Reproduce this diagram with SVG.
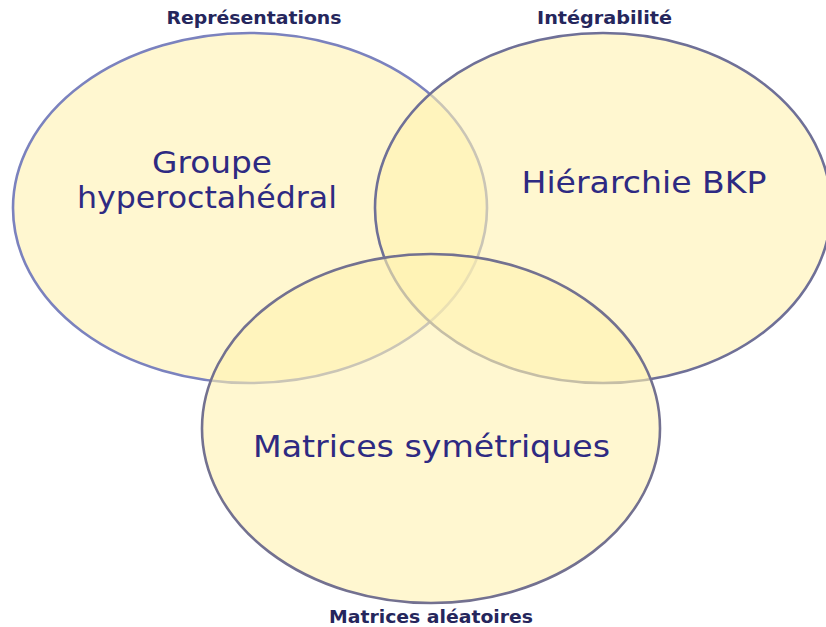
<svg xmlns="http://www.w3.org/2000/svg" width="826" height="627" viewBox="0 0 826 627">
<style>
.set{fill:#FFF2B0;fill-opacity:0.6;stroke-width:2.6}
.lbl{font-family:"DejaVu Sans","Liberation Sans",sans-serif;font-weight:bold;font-size:17px;fill:#25265C;text-anchor:middle}
.main{font-family:"DejaVu Sans","Liberation Sans",sans-serif;font-size:30px;fill:#2E2A82;text-anchor:middle}
</style>
<rect width="826" height="627" fill="#FFFFFF"/>
<g id="representations">
<ellipse class="set" cx="250" cy="208" rx="237" ry="175" stroke="#7B82BE"/>
<text class="lbl" x="254" y="24" textLength="175" lengthAdjust="spacingAndGlyphs">Représentations</text>
<text class="main" x="212" y="173" textLength="120" lengthAdjust="spacingAndGlyphs">Groupe</text>
<text class="main" x="207" y="208" textLength="260" lengthAdjust="spacingAndGlyphs">hyperoctahédral</text>
</g>
<g id="integrabilite">
<ellipse class="set" cx="603" cy="208" rx="228" ry="175" stroke="#6F7097"/>
<text class="lbl" x="604.5" y="24" textLength="135" lengthAdjust="spacingAndGlyphs">Intégrabilité</text>
<text class="main" x="644" y="193" textLength="245" lengthAdjust="spacingAndGlyphs">Hiérarchie BKP</text>
</g>
<g id="matrices-aleatoires">
<ellipse class="set" cx="431" cy="428.5" rx="229" ry="174.5" stroke="#737190"/>
<text class="lbl" x="431" y="623" textLength="204" lengthAdjust="spacingAndGlyphs">Matrices aléatoires</text>
<text class="main" x="431.5" y="457" textLength="357" lengthAdjust="spacingAndGlyphs">Matrices symétriques</text>
</g>
<g id="connectors"/>
</svg>
